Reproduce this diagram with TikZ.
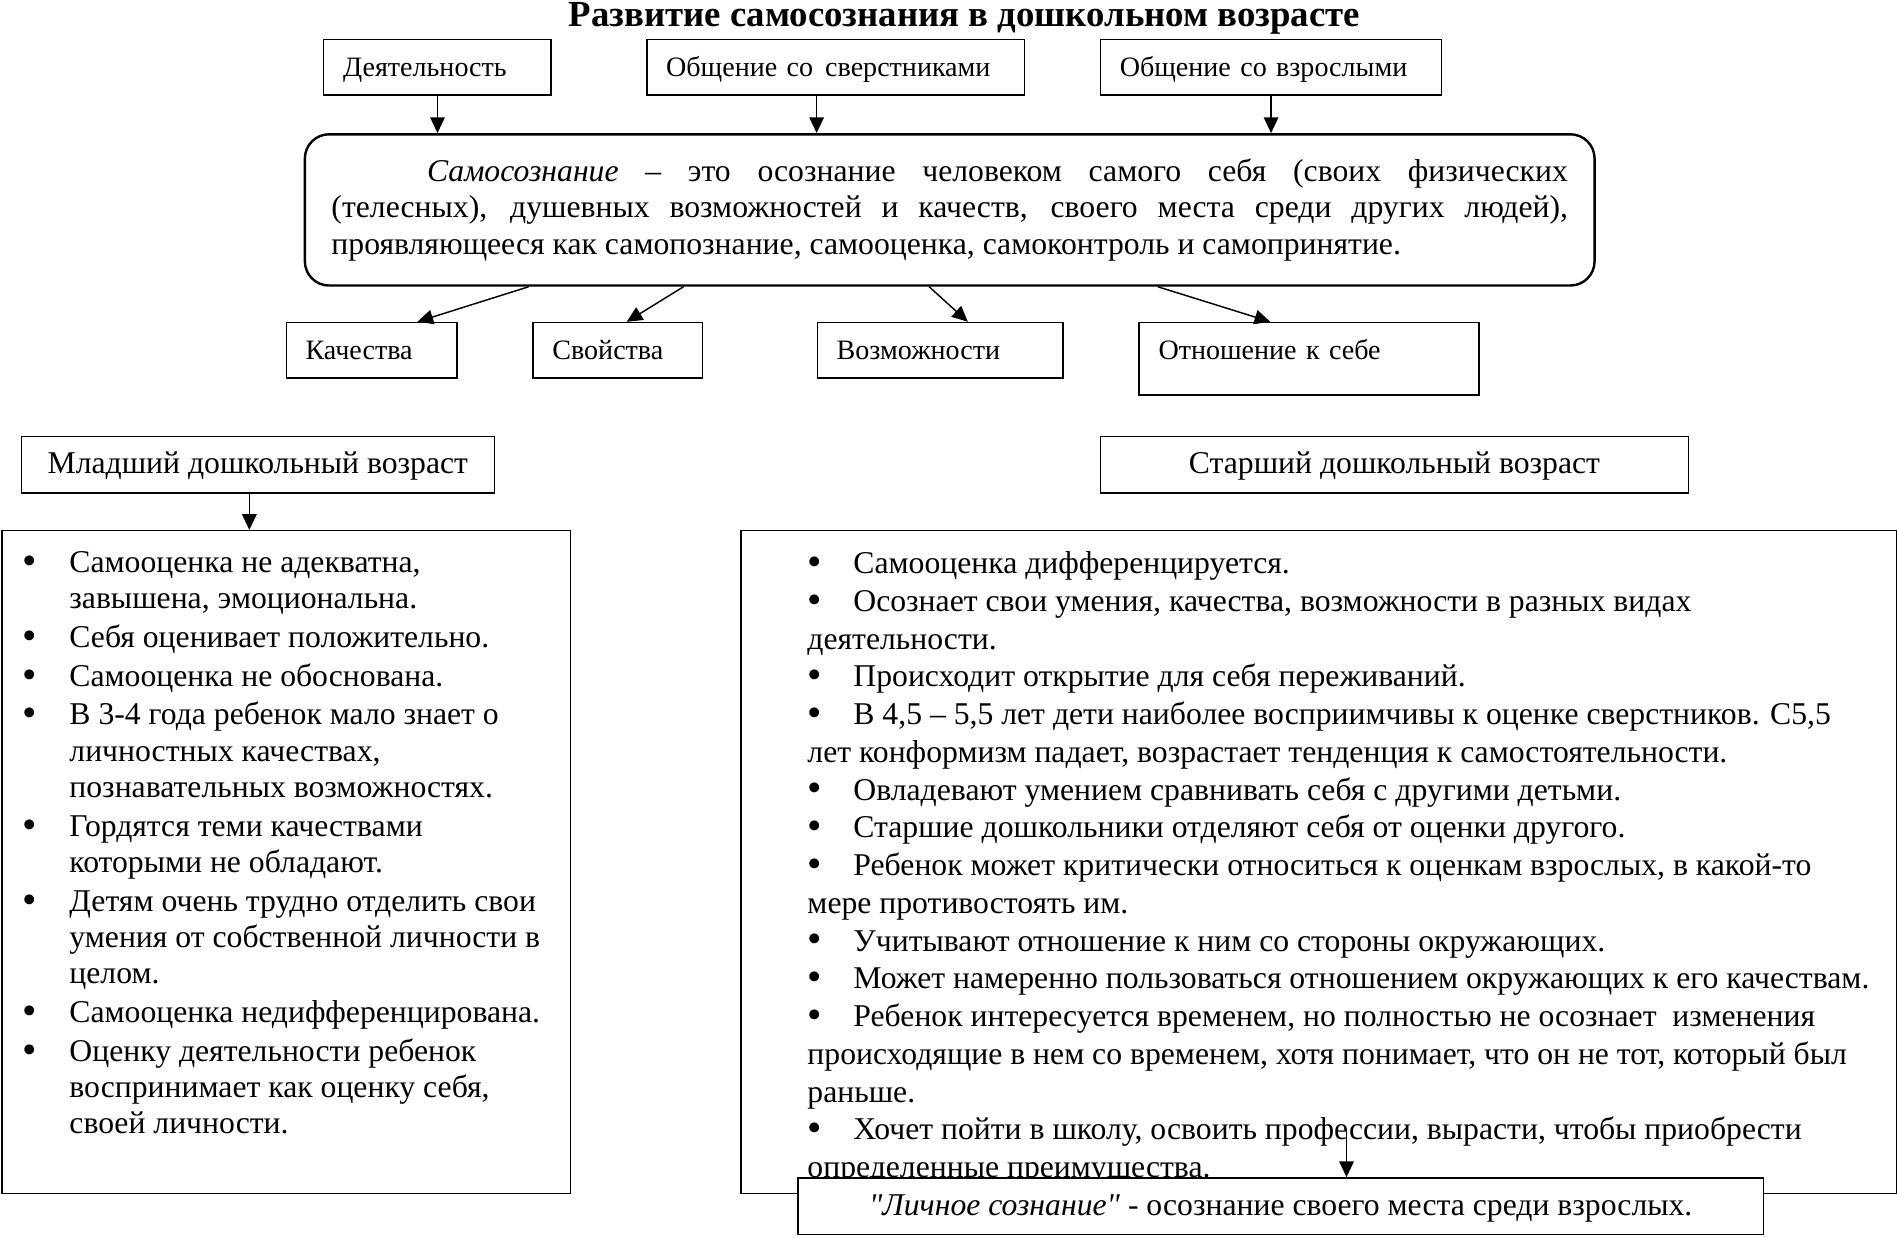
\documentclass[tikz,border=0pt]{standalone}
\usepackage{fontspec}
\setmainfont{Liberation Serif}[Ligatures=TeXOff]
\usepackage{tikz}
\usetikzlibrary{calc}
\usetikzlibrary{arrows.meta}

\newcommand\dotbul{\raisebox{-.8pt}{\scalebox{1.3}{\textbullet}}}
\newcommand\lbul{\makebox[17pt][l]{\hspace*{-2.5pt}\dotbul}}
\newcommand\lind{\hspace*{17pt}}
\newcommand\rbul{\makebox[19pt][l]{\dotbul}}

\tikzset{
  box/.style={draw, line width=.6pt, anchor=north west, inner xsep=8pt, inner ysep=0pt,
    text height=10pt, text depth=2.5pt, font=\fontsize{11.6}{14}\selectfont},
  lbox/.style 2 args={box, text width=#1, minimum height=#2, align=left},
  cbox/.style 2 args={box, minimum width=#1, minimum height=#2, font=\fontsize{13.1}{15}\selectfont},
  listbox/.style 2 args={draw, line width=.6pt, anchor=north west, inner sep=0pt,
    minimum width=#1, minimum height=#2},
  listtxt/.style={anchor=north west, inner sep=0pt, align=left},
  arr/.style={line width=.6pt, -{Triangle[width=6pt,length=6.5pt]}},
}

\begin{document}
\begin{tikzpicture}[x=.5pt, y=-.5pt]
\useasboundingbox (0,0) rectangle (1568,1022.5);

\node (title) at (797,22) [anchor=base, font=\bfseries\fontsize{15.2}{18}\selectfont]
  {Развитие самосознания в дошкольном возрасте};

% sources
\node (deyat) at (267,32) [lbox={78pt}{23pt}] {Деятельность};
\node (obsver) at (534,32) [lbox={140pt}{23pt}] {\mbox{Общение со\hspace{5pt}сверстниками}};
\node (obsvz) at (909,32) [lbox={125pt}{23pt}] {\mbox{Общение со взрослыми}};

\node (samo) at (251,110) [draw, line width=1pt, rounded corners=10pt, anchor=north west,
  minimum height=62.5pt, text width=511pt, inner xsep=11pt, align=justify,
  font=\fontsize{13.1}{15}\selectfont]
  {\noindent\hspace*{39.5pt}\textit{Самосознание} – это осознание человеком самого себя (своих физических\linebreak
   (телесных), душевных возможностей и качеств, своего места среди других людей),\linebreak
   проявляющееся как самопознание, самооценка, самоконтроль и самопринятие.};

% components
\node (kach) at (236,266) [lbox={54.5pt}{23pt}] {Качества};
\node (svoi) at (440,266) [lbox={54pt}{23pt}] {Свойства};
\node (vozm) at (675,266) [lbox={85.5pt}{23pt}] {Возможности};
\node (otn) at (941,266) [lbox={124.5pt}{30pt}, text depth=9.5pt] {Отношение к себе};

\draw[arr] (deyat.south) -- (deyat.south |- samo.north);
\draw[arr] ($(obsver.south west)+(141,0)$) -- ($(obsver.south west |- samo.north)+(141,0)$);
\draw[arr] (obsvz.south) -- (obsvz.south |- samo.north);

\draw[arr] ($(samo.south west)+(186,0)$) -- ($(kach.north west)+(109,0)$);
\draw[arr] ($(samo.south west)+(314,0)$) -- ($(svoi.north west)+(78,0)$);
\draw[arr] ($(samo.south west)+(517,0)$) -- ($(vozm.north west)+(125,0)$);
\draw[arr] ($(samo.south west)+(706,0)$) -- ($(otn.north west)+(109,0)$);

% younger age
\node (mlad) at (17,360) [cbox={195.5pt}{23.5pt}] {Младший дошкольный возраст};
\node (mladbox) at (1,438) [listbox={235pt}{274pt}] {};
\node (mladtxt) at (23,455.5) [listtxt, font=\fontsize{13.1}{15}\selectfont]
  {\lbul Самооценка не адекватна,\\
   \lind завышена, эмоциональна.\\[1pt]
   \lbul Себя оценивает положительно.\\[1pt]
   \lbul Самооценка не обоснована.\\[1pt]
   \lbul В 3-4 года ребенок мало знает о\\
   \lind личностных качествах,\\
   \lind познавательных возможностях.\\[1pt]
   \lbul Гордятся теми качествами\\
   \lind которыми не обладают.\\[1pt]
   \lbul Детям очень трудно отделить свои\\
   \lind умения от собственной личности в\\
   \lind целом.\\[1pt]
   \lbul Самооценка недифференцирована.\\[1pt]
   \lbul Оценку деятельности ребенок\\
   \lind воспринимает как оценку себя,\\
   \lind своей личности.};
\draw[arr] ($(mlad.south)+(-7,0)$) -- ($(mlad.south |- mladbox.north)+(-7,0)$);

% older age
\node (star) at (909,360) [cbox={243pt}{23.5pt}] {Старший дошкольный возраст};
\node (starbox) at (612,438) [listbox={477.5pt}{274pt}] {};
\node (startxt) at (667,455.5) [listtxt, font=\fontsize{13.1}{15.6}\selectfont]
  {\rbul Самооценка дифференцируется.\\
   \rbul Осознает свои умения, качества, возможности в разных видах\\
   деятельности.\\
   \rbul Происходит открытие для себя переживаний.\\
   \rbul В 4,5 – 5,5 лет дети наиболее восприимчивы к оценке сверстников. С5,5\\
   лет конформизм падает, возрастает тенденция к самостоятельности.\\
   \rbul Овладевают умением сравнивать себя с другими детьми.\\
   \rbul Старшие дошкольники отделяют себя от оценки другого.\\
   \rbul Ребенок может критически относиться к оценкам взрослых, в какой-то\\
   мере противостоять им.\\
   \rbul Учитывают отношение к ним со стороны окружающих.\\
   \rbul Может намеренно пользоваться отношением окружающих к его качествам.\\
   \rbul Ребенок интересуется временем, но полностью не осознает\ \ изменения\\
   происходящие в нем со временем, хотя понимает, что он не тот, который был\\
   раньше.\\
   \rbul Хочет пойти в школу, освоить профессии, вырасти, чтобы приобрести\\
   определенные преимущества.};

\node (lich) at (659,973) [cbox={399pt}{23.5pt}, fill=white]
  {\textit{"Личное сознание"} - осознание своего места среди взрослых.};
\coordinate (lichfrom) at (1113,935);
\draw[arr] (lichfrom) -- (lichfrom |- lich.north);
\end{tikzpicture}
\end{document}
